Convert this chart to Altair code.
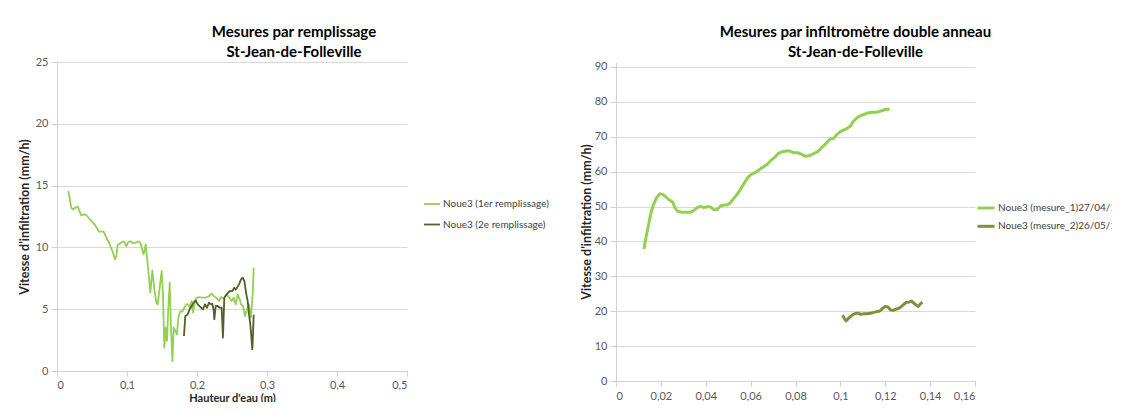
import altair as alt
import pandas as pd

FONT = "Lato"

# ---------------- Left chart: Mesures par remplissage ----------------
left_names = ["Noue3  (1er remplissage)", "Noue3  (2e remplissage)"]
left_colors = ["#92D050", "#4F6228"]

r1_x = [0.0162, 0.0205, 0.0229, 0.026, 0.0295, 0.0324, 0.0348, 0.039, 0.042, 0.045,
        0.05, 0.0548, 0.06, 0.0633, 0.0667, 0.0705, 0.0743, 0.0776, 0.08, 0.0829,
        0.0848, 0.0867, 0.0895, 0.0933, 0.0962, 0.099, 0.1019, 0.1048, 0.1086, 0.1124,
        0.1162, 0.119, 0.1214, 0.1238, 0.1267, 0.1286, 0.131, 0.1333, 0.1362, 0.139,
        0.1419, 0.1438, 0.1467, 0.1495, 0.1514, 0.1533, 0.1552, 0.1571, 0.159, 0.161,
        0.1629, 0.1648, 0.1667, 0.169, 0.1714, 0.1733, 0.1762, 0.179, 0.1819, 0.1848,
        0.1876, 0.1895, 0.1924, 0.1943, 0.1962, 0.199, 0.2029, 0.2076, 0.2124, 0.2171,
        0.221, 0.2238, 0.2276, 0.2314, 0.2343, 0.2381, 0.2419, 0.2457, 0.2495, 0.2524,
        0.2552, 0.2581, 0.261, 0.2629, 0.2657, 0.2686, 0.2714, 0.2743, 0.2771, 0.2795,
        0.281]
r1_y = [14.56, 13.2, 13.07, 13.2, 13.3, 12.9, 12.6, 12.67, 12.6, 12.4,
        12.08, 11.78, 11.27, 11.27, 11.27, 10.78, 10.38, 9.92, 9.57, 9.03,
        9.3, 10.19, 10.3, 10.46, 10.46, 10.1, 10.43, 10.5, 10.35, 10.38,
        10.48, 10.38, 9.92, 9.43, 10.24, 9.16, 7.82, 6.33, 8.14, 6.6,
        5.53, 5.39, 6.74, 8.09, 6.2, 1.89, 3.5, 2.43, 5.12, 7.14,
        3.5, 0.81, 3.5, 3.23, 2.96, 4.31, 4.85, 4.8, 5.12, 5.39,
        5.39, 5.12, 5.66, 4.72, 5.39, 5.88, 5.98, 5.93, 5.93, 6.06,
        6.28, 6.06, 5.93, 5.66, 5.98, 5.85, 6.2, 5.98, 5.66, 5.93,
        5.39, 6.2, 5.8, 5.39, 5.26, 4.45, 4.99, 5.39, 4.31, 6.2,
        8.36]

r2_x = [0.1814, 0.1833, 0.1867, 0.1895, 0.1924, 0.1952, 0.1981, 0.201, 0.2048, 0.2086,
        0.2114, 0.2143, 0.2171, 0.22, 0.2219, 0.2238, 0.2248, 0.2267, 0.2295, 0.2324,
        0.2352, 0.2371, 0.239, 0.2429, 0.2467, 0.2505, 0.2533, 0.2552, 0.2571, 0.26,
        0.2629, 0.2652, 0.2676, 0.2705, 0.2724, 0.2743, 0.2762, 0.279, 0.28, 0.281]
r2_y = [2.83, 4.45, 4.58, 4.99, 5.26, 5.53, 5.71, 5.39, 5.18, 4.99,
        5.39, 5.12, 5.53, 5.39, 5.44, 4.9, 4.18, 5.26, 5.26, 5.12,
        5.12, 2.7, 5.93, 6.25, 6.47, 6.47, 6.74, 6.6, 6.74, 7.01,
        7.41, 7.55, 7.28, 6.2, 5.66, 4.58, 3.77, 1.75, 2.96, 4.53]

left_x_ticks = [0, 0.1, 0.2, 0.3, 0.4, 0.5]
left_y_ticks = [0, 5, 10, 15, 20, 25]

# ---------------- Right chart: infiltromètre double anneau ----------------
right_names = ["Noue3 (mesure_1)27/04/16", "Noue3 (mesure_2)26/05/16"]
right_colors = ["#92D050", "#77933C"]

m1_x = [0.01246, 0.01335, 0.0144, 0.01543, 0.01662, 0.0181, 0.01958, 0.02077, 0.02226, 0.02374,
        0.02522, 0.02626, 0.0273, 0.02923, 0.03145, 0.03323, 0.03472, 0.0362, 0.03769, 0.03917,
        0.04095, 0.04214, 0.0436, 0.0451, 0.0466, 0.0481, 0.04955, 0.051, 0.0525, 0.054,
        0.0555, 0.057, 0.0585, 0.0599, 0.0619, 0.0638, 0.0656, 0.0674, 0.0691, 0.0709,
        0.0724, 0.0742, 0.076, 0.0774, 0.0792, 0.081, 0.0828, 0.0846, 0.0864, 0.0881,
        0.0899, 0.0917, 0.0935, 0.0953, 0.097, 0.0985, 0.1, 0.1012, 0.103, 0.1045,
        0.1056, 0.1079, 0.110, 0.112, 0.114, 0.116, 0.118, 0.120, 0.122]
m1_y = [37.83, 41.08, 44.43, 47.77, 50.44, 52.55, 53.69, 53.5, 52.74, 51.88,
        51.3, 49.68, 48.72, 48.34, 48.34, 48.34, 48.91, 49.68, 50.06, 49.68,
        49.97, 49.87, 49.1, 49.1, 50.16, 50.44, 50.44, 51.11, 52.35, 53.5,
        54.94, 56.56, 58.09, 59.04, 59.71, 60.57, 61.33, 62.1, 63.25, 64.2,
        65.25, 65.73, 65.92, 65.92, 65.44, 65.44, 64.97, 64.39, 64.68, 65.16,
        65.73, 66.88, 68.02, 69.27, 69.55, 70.7, 71.46, 71.85, 72.4, 73.1,
        74.3, 75.7, 76.3, 76.8, 77.0, 77.0, 77.4, 77.8, 77.9]

m2_x = [0.101, 0.1016, 0.1025, 0.1035, 0.1045, 0.1057, 0.1069, 0.1081, 0.109, 0.1105,
        0.1119, 0.1134, 0.1146, 0.1161, 0.1176, 0.1188, 0.12, 0.1212, 0.1224, 0.1235,
        0.1247, 0.1259, 0.1271, 0.1283, 0.1295, 0.1307, 0.1316, 0.1327, 0.1339, 0.1348,
        0.1357, 0.1366]
m2_y = [18.83, 18.15, 17.2, 17.86, 18.43, 19.1, 19.4, 19.4, 19.1, 19.3,
        19.3, 19.4, 19.6, 19.87, 20.06, 20.8, 21.4, 21.2, 20.35, 20.27,
        20.55, 20.8, 21.3, 21.98, 22.55, 22.64, 22.93, 22.36, 21.7, 21.4,
        22.17, 22.55]

right_x_ticks = [0, 0.02, 0.04, 0.06, 0.08, 0.1, 0.12, 0.14, 0.16]
right_y_ticks = [0, 10, 20, 30, 40, 50, 60, 70, 80, 90]

X_TITLE = "Hauteur d'eau (m)"
Y_TITLE = "Vitesse d'infiltration (mm/h)"
SUBTITLE = "St-Jean-de-Folleville"


def make_df(xs, ys, name):
    return pd.DataFrame({"x": xs, "y": ys, "s": name, "i": list(range(len(xs)))})


df_left = pd.concat([make_df(r1_x, r1_y, left_names[0]), make_df(r2_x, r2_y, left_names[1])])
df_right = pd.concat([make_df(m1_x, m1_y, right_names[0]), make_df(m2_x, m2_y, right_names[1])])

LABEL_EXPR = "replace(format(datum.value, '~g'), '.', ',')"
AXIS_GREY = "#D0D0D0"


def x_axis(values, label_pad, title_pad):
    return alt.Axis(values=values, title=X_TITLE, labelExpr=LABEL_EXPR, grid=False,
                    domainColor=AXIS_GREY, tickColor=AXIS_GREY, tickSize=5,
                    labelPadding=label_pad, labelFontSize=11, labelColor="#595959",
                    labelFont=FONT, titleFontSize=11, titleFontWeight="bold",
                    titleColor="#262626", titleFont=FONT, titlePadding=title_pad)


def y_axis(values, title_pad):
    return alt.Axis(values=values, title=Y_TITLE, labelExpr=LABEL_EXPR, grid=True,
                    gridColor="#D9D9D9", domainColor=AXIS_GREY, tickColor=AXIS_GREY,
                    tickSize=6, labelPadding=3, labelFontSize=11, labelColor="#595959",
                    labelFont=FONT, titleFontSize=12.5, titleFontWeight="bold",
                    titleColor="#262626", titleFont=FONT, titlePadding=title_pad)


def panel(df, names, colors, xdom, ydom, xticks, yticks, width, height, stroke,
          title, title_dx, title_offset, legend_x, legend_y, sym_size, row_pad,
          xl_pad, xt_pad, yt_pad):
    color = alt.Color("s:N", scale=alt.Scale(domain=names, range=colors),
                      legend=alt.Legend(title=None, orient="none", legendX=legend_x,
                                        legendY=legend_y, symbolType="stroke",
                                        symbolSize=sym_size, symbolStrokeWidth=stroke,
                                        labelFontSize=10, labelFont=FONT,
                                        labelColor="#404040", rowPadding=row_pad,
                                        labelOffset=2, labelLimit=300))
    layers = []
    for n in names:
        layers.append(
            alt.Chart(df).transform_filter(alt.datum.s == n)
            .mark_line(strokeWidth=stroke, strokeJoin="round")
            .encode(x=alt.X("x:Q", scale=alt.Scale(domain=xdom, nice=False),
                            axis=x_axis(xticks, xl_pad, xt_pad)),
                    y=alt.Y("y:Q", scale=alt.Scale(domain=ydom, nice=False),
                            axis=y_axis(yticks, yt_pad)),
                    color=color, order="i:Q")
        )
    return alt.layer(*layers).properties(
        width=width, height=height,
        title=alt.TitleParams(text=[title, SUBTITLE], fontSize=15, font=FONT,
                              fontWeight="bold", color="#000000", anchor="middle",
                              dx=title_dx, offset=title_offset, lineHeight=20),
    )


left = panel(df_left, left_names, left_colors, [0, 0.5], [0, 25], left_x_ticks, left_y_ticks,
             350, 309, 1.8, "Mesures par remplissage", 62, -4, 366, 133, 256, 6.5,
             3, 2, 4)
# right plot sits 5 px lower than the left one: its frame starts 5 px above the 90 line
right = panel(df_right, right_names, right_colors, [0, 0.16], [0, 91.43], right_x_ticks,
              right_y_ticks, 359, 319, 3, "Mesures par infiltromètre double anneau", 60, 1,
              360, 136, 289, 2.3, 4.5, 4, 1)

chart = alt.concat(left, right, columns=2, spacing=28, align="none").resolve_scale(
    color="independent").properties(
    padding={"left": 10, "top": 16, "right": -10, "bottom": -15},
    background="white",
).configure_view(stroke=None)

chart.save("out.html", embed_options={"renderer": "svg", "actions": False})
